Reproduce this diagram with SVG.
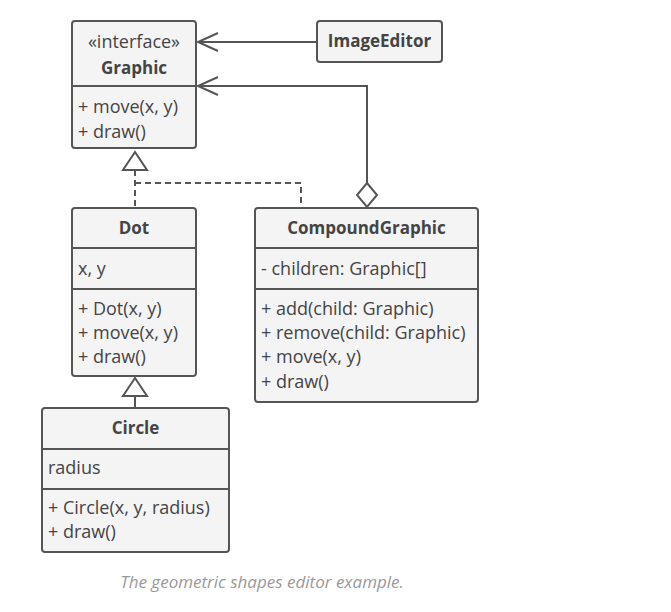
<svg xmlns="http://www.w3.org/2000/svg" width="671" height="612" viewBox="0 0 671 612">
<style>
.box{fill:#f4f4f4;stroke:#555555;stroke-width:2}
.div{stroke:#555555;stroke-width:2}
.t{font-family:"Open Sans","Noto Sans",sans-serif;font-size:18px;fill:#444}
.b{font-weight:bold;font-size:17px;text-anchor:middle}
.c{text-anchor:middle}
.ln{fill:none;stroke:#555555;stroke-width:2}
.dash{stroke-dasharray:6,4}
.cap{font-family:"Open Sans","Noto Sans",sans-serif;font-size:17px;font-style:italic;fill:#999;text-anchor:middle}
</style>
<rect width="671" height="612" fill="#ffffff"/>
<g id="connectors">
  <path class="ln" d="M317 42 H198 M218 33 L198 42 L218 51"/>
  <path class="ln" d="M367 183 V86 H198 M218 77 L198 86 L218 95"/>
  <path d="M367 183 L377 195 L367 207 L357 195 Z" fill="#fff" stroke="#555555" stroke-width="2"/>
  <path class="ln dash" d="M135 170 V208 M135 183 H301 V208"/>
  <path d="M135 152 L147 170 H123 Z" fill="#fff" stroke="#555555" stroke-width="2"/>
  <path class="ln" d="M135 396 V408"/>
  <path d="M135 378 L147 396 H123 Z" fill="#fff" stroke="#555555" stroke-width="2"/>
</g>
<g id="Graphic">
  <rect class="box" x="72" y="21" width="124" height="127" rx="3"/>
  <line class="div" x1="72" y1="86" x2="196" y2="86"/>
  <text class="t c" x="134" y="48">«interface»</text>
  <text class="t b" x="134" y="74">Graphic</text>
  <text class="t" x="78" y="113">+ move(x, y)</text>
  <text class="t" x="78" y="138">+ draw()</text>
</g>
<g id="ImageEditor">
  <rect class="box" x="317" y="21" width="125" height="41" rx="3"/>
  <text class="t b" x="379.5" y="47">ImageEditor</text>
</g>
<g id="Dot">
  <rect class="box" x="72" y="208" width="124" height="168" rx="3"/>
  <line class="div" x1="72" y1="248" x2="196" y2="248"/>
  <line class="div" x1="72" y1="289" x2="196" y2="289"/>
  <text class="t b" x="134" y="234">Dot</text>
  <text class="t" x="78" y="275">x, y</text>
  <text class="t" x="78" y="315">+ Dot(x, y)</text>
  <text class="t" x="78" y="339">+ move(x, y)</text>
  <text class="t" x="78" y="363">+ draw()</text>
</g>
<g id="CompoundGraphic">
  <rect class="box" x="255" y="208" width="223" height="194" rx="3"/>
  <line class="div" x1="255" y1="248" x2="478" y2="248"/>
  <line class="div" x1="255" y1="289" x2="478" y2="289"/>
  <text class="t b" x="366.5" y="234">CompoundGraphic</text>
  <text class="t" x="261" y="275">- children: Graphic[]</text>
  <text class="t" x="261" y="315">+ add(child: Graphic)</text>
  <text class="t" x="261" y="339">+ remove(child: Graphic)</text>
  <text class="t" x="261" y="363">+ move(x, y)</text>
  <text class="t" x="261" y="388">+ draw()</text>
</g>
<g id="Circle">
  <rect class="box" x="42" y="408" width="187" height="144" rx="3"/>
  <line class="div" x1="42" y1="449" x2="229" y2="449"/>
  <line class="div" x1="42" y1="489" x2="229" y2="489"/>
  <text class="t b" x="135.5" y="434">Circle</text>
  <text class="t" x="48" y="474">radius</text>
  <text class="t" x="48" y="514">+ Circle(x, y, radius)</text>
  <text class="t" x="48" y="538">+ draw()</text>
</g>
<text class="cap" x="262" y="588">The geometric shapes editor example.</text>
</svg>
